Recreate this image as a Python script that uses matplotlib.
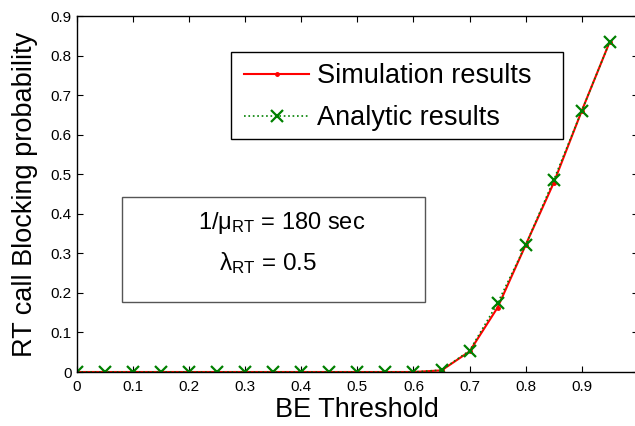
import numpy as np
import matplotlib
matplotlib.use("Agg")
import matplotlib.pyplot as plt
from matplotlib.patches import Rectangle

plt.rcParams["font.family"] = ["Liberation Sans", "DejaVu Sans"]
plt.rcParams["mathtext.fontset"] = "custom"
plt.rcParams["mathtext.rm"] = "Liberation Sans"

# BE threshold values and blocking probabilities
threshold = [0, 0.05, 0.1, 0.15, 0.2, 0.25, 0.3, 0.35, 0.4, 0.45, 0.5,
             0.55, 0.6, 0.65, 0.7, 0.75, 0.8, 0.85, 0.9, 0.95]
sim_block = [0, 0, 0, 0, 0, 0, 0, 0, 0, 0, 0,
             0, 0, 0.004, 0.052, 0.163, 0.321, 0.478, 0.660, 0.835]
ana_block = [0, 0, 0, 0, 0, 0, 0, 0, 0, 0, 0,
             0, 0, 0.005, 0.054, 0.174, 0.321, 0.485, 0.660, 0.835]
xticks = [0, 0.1, 0.2, 0.3, 0.4, 0.5, 0.6, 0.7, 0.8, 0.9, 1.0]
xticklabels = ["0", "0.1", "0.2", "0.3", "0.4", "0.5", "0.6", "0.7", "0.8", "0.9", ""]
yticks = [0, 0.1, 0.2, 0.3, 0.4, 0.5, 0.6, 0.7, 0.8, 0.9]
yticklabels = ["0", "0.1", "0.2", "0.3", "0.4", "0.5", "0.6", "0.7", "0.8", "0.9"]

fig = plt.figure(figsize=(6.35, 4.26), dpi=100)
ax = fig.add_axes([77/635, 54/426, 560.8/635, 356/426])

ax.plot(threshold, sim_block, color="red", linewidth=1.5, marker=".",
        markersize=5, label="Simulation results")
ax.plot(threshold, ana_block, color="green", linestyle=":", linewidth=1.2,
        marker="x", markersize=8.5, markeredgewidth=1.6, label="Analytic results")

ax.set_xlim(0, 1)
ax.set_ylim(0, 0.9)
ax.set_xticks(xticks)
ax.set_xticklabels(xticklabels)
ax.set_yticks(yticks)
ax.set_yticklabels(yticklabels)
ax.tick_params(direction="in", top=True, right=True, labelsize=11, length=4)
ax.tick_params(axis="x", pad=6)
ax.tick_params(axis="y", pad=4)
for s in ax.spines.values():
    s.set_linewidth(1)

ax.set_xlabel("BE Threshold", fontsize=19.5, labelpad=2)
ax.set_ylabel("RT call Blocking probability", fontsize=19.5, labelpad=9)

# legend box drawn by hand (MATLAB style, extra room on the right)
ax.add_patch(Rectangle((231/635, 1 - 139/426), 332/635, 87/426,
                       transform=fig.transFigure, facecolor="white",
                       edgecolor="black", linewidth=1, zorder=4, clip_on=False))
leg = ax.legend(loc="upper left", bbox_to_anchor=(244/635, 1 - 63/426),
                bbox_transform=fig.transFigure, borderaxespad=0, fontsize=19.5,
                frameon=False, handlelength=2.4, handletextpad=0.3,
                borderpad=0, labelspacing=0.6)
leg.set_zorder(6)

# parameter box
fig.patches.append(Rectangle((122/635, 1 - 302/426), 303/635, 105/426,
                             transform=fig.transFigure, facecolor="white",
                             edgecolor="#555555", linewidth=1))
fig.text(282/635, 1 - 229/426, r"$\mathregular{1/μ_{RT}}$ = 180 sec",
         ha="center", va="baseline", fontsize=17)
fig.text(268/635, 1 - 270/426, r"$\mathregular{λ_{RT}}$ = 0.5",
         ha="center", va="baseline", fontsize=17.5)

fig.savefig("out.png", dpi=100)
